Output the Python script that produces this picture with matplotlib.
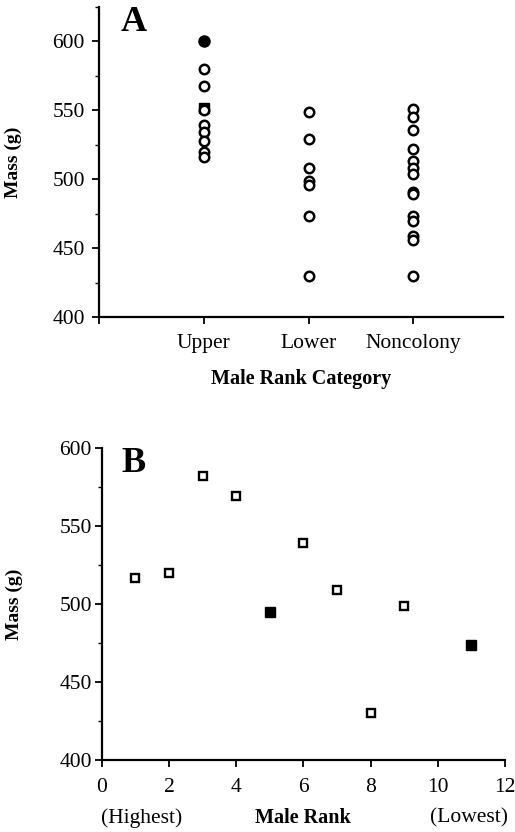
import numpy as np
import matplotlib
matplotlib.use('Agg')
import matplotlib.pyplot as plt
from matplotlib.ticker import MultipleLocator

plt.rcParams['font.family'] = ['Liberation Serif', 'DejaVu Serif']

# Panel A: mass by male rank category
categories = ['Upper', 'Lower', 'Noncolony']
upper_open = [580, 568, 550, 539, 534, 528, 520, 516]
lower_open = [549, 529, 508, 499, 496, 473, 430]
noncolony_open = [551, 545, 536, 522, 513, 508, 504, 491, 489, 473, 470, 459, 456, 430]
upper_filled_circle = [600]
upper_filled_square = [552]

# Panel B: mass by male rank
rank_open = [1, 2, 3, 4, 6, 7, 8, 9]
mass_open = [517, 520, 582, 569, 539, 509, 430, 499]
rank_filled = [5, 11]
mass_filled = [495, 474]

fig = plt.figure(figsize=(5.15, 8.32), dpi=100)
axA = fig.add_axes([0.192, 0.619, 0.784, 0.3726])
axB = fig.add_axes([0.1975, 0.0865, 0.783, 0.375])

for ax in (axA, axB):
    ax.spines['top'].set_visible(False)
    ax.spines['right'].set_visible(False)
    ax.spines['left'].set_linewidth(1.6)
    ax.spines['bottom'].set_linewidth(1.6)
    ax.tick_params(which='major', direction='out', length=5, width=1.3,
                   labelsize=15.5, pad=2)
    ax.tick_params(which='minor', direction='out', length=3, width=1.0)
    ax.yaxis.set_major_locator(MultipleLocator(50))
    ax.yaxis.set_minor_locator(MultipleLocator(25))

# --- A ---
open_groups = [upper_open, lower_open, noncolony_open]
for i, vals in enumerate(open_groups):
    axA.plot([i + 1] * len(vals), vals, 'o', ms=6.8, mfc='white', mec='black',
             mew=1.8, ls='none')
axA.plot([1] * len(upper_filled_square), upper_filled_square, 's', ms=6.5,
         color='black', ls='none', zorder=1)
axA.plot([1] * len(upper_filled_circle), upper_filled_circle, 'o', ms=8,
         color='black', ls='none')
axA.set_xlim(0, 3.85)
axA.set_ylim(400, 625)
axA.set_xticks([0, 1, 2, 3])
axA.set_xticklabels([''] + categories)
axA.tick_params(axis='y', pad=5)
axA.tick_params(axis='x', pad=7)
axA.set_xlabel('Male Rank Category', fontsize=14.5, fontweight='bold', labelpad=12)
axA.set_ylabel('Mass (g)', fontsize=14, fontweight='bold', labelpad=22)
axA.text(0.055, 0.95, 'A', transform=axA.transAxes, fontsize=26,
         fontweight='bold', va='center', ha='left')

# --- B ---
axB.plot(rank_open, mass_open, 's', ms=5.5, mfc='white', mec='black',
         mew=1.7, ls='none')
axB.plot(rank_filled, mass_filled, 's', ms=6.5, color='black', ls='none')
axB.set_xlim(0, 12)
axB.set_ylim(400, 600)
axB.xaxis.set_major_locator(MultipleLocator(2))
axB.tick_params(axis='x', pad=8)
axB.set_ylabel('Mass (g)', fontsize=14, fontweight='bold', labelpad=26)
axB.text(0.5, -0.186, 'Male Rank', transform=axB.transAxes, fontsize=14.5,
         fontweight='bold', ha='center', va='center')
axB.text(0.1, -0.186, '(Highest)', transform=axB.transAxes, fontsize=15.5,
         ha='center', va='center')
axB.text(0.91, -0.186, '(Lowest)', transform=axB.transAxes, fontsize=15.5,
         ha='center', va='center')
axB.text(0.05, 0.95, 'B', transform=axB.transAxes, fontsize=26,
         fontweight='bold', va='center', ha='left')

fig.savefig('out.png', dpi=100)
